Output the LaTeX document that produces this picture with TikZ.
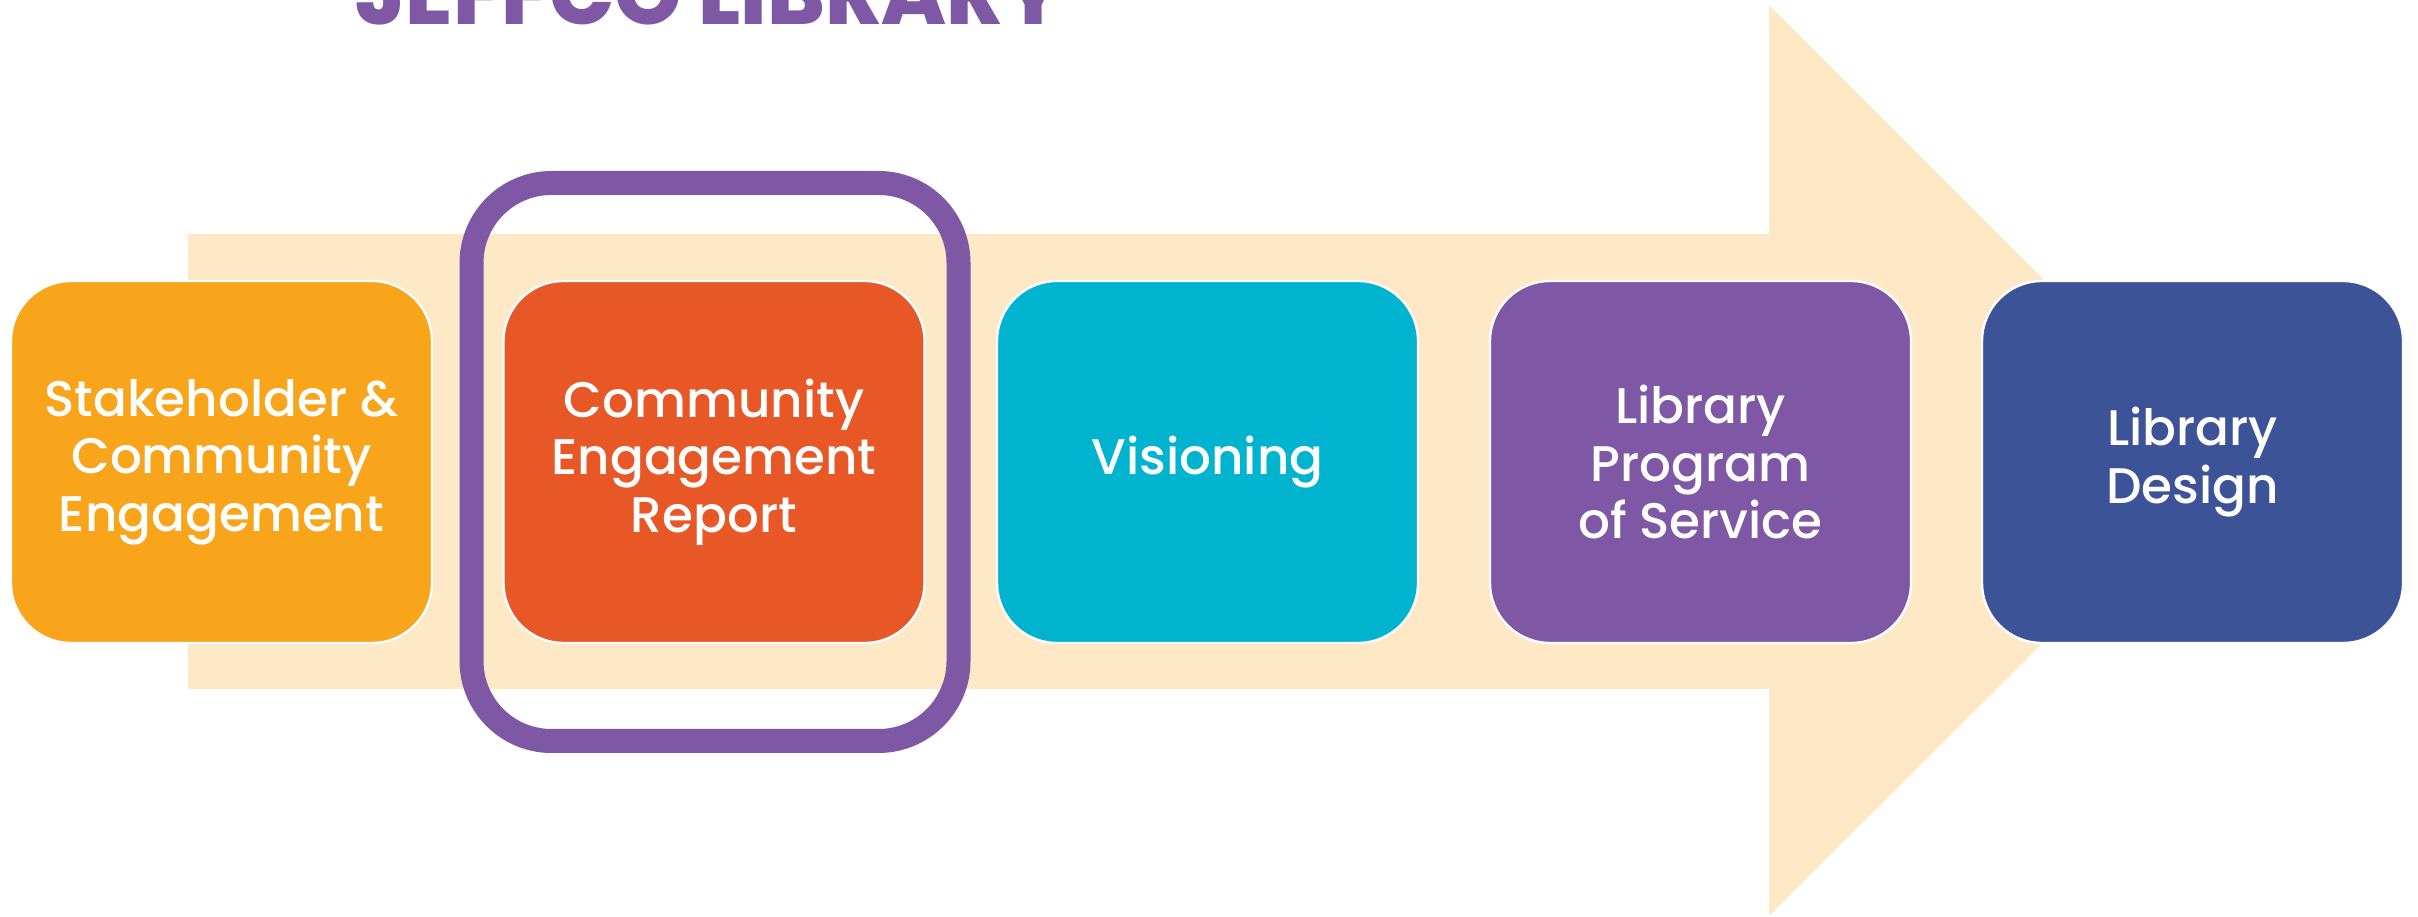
\documentclass[tikz,border=0pt]{standalone}
\usepackage{fontspec}
\setmainfont{Poppins}
\newfontfamily\boxfont{Poppins Medium}
\newfontfamily\titlefont{Poppins ExtraBold}
\usepackage{graphicx}

\definecolor{arrowpeach}{HTML}{FEE8C6}
\definecolor{steporange}{HTML}{F9A51C}
\definecolor{stepred}{HTML}{E85726}
\definecolor{stepcyan}{HTML}{00B4D0}
\definecolor{steppurple}{HTML}{7F58A5}
\definecolor{stepblue}{HTML}{3C5497}

\tikzset{
  stepbox/.style={draw=white, line width=0.6pt, rounded corners=15pt,
    minimum width=105.25pt, minimum height=90.5pt, align=center,
    text=white, font=\boxfont\fontsize{12.5pt}{14.4pt}\selectfont, inner sep=0pt},
  highlight/.style={draw=steppurple, line width=6pt, rounded corners=20pt,
    minimum width=121.75pt, minimum height=139.5pt, inner sep=0pt},
}

\begin{document}
\begin{tikzpicture}[x=0.25pt, y=-0.25pt]
  \useasboundingbox (0,0) rectangle (2418,917);
  \clip (0,0) rectangle (2418,917);

  % big background arrow
  \fill[arrowpeach] (188,234) -- (1769,234) -- (1769,5) -- (2225,461)
    -- (1769,916) -- (1769,689) -- (188,689) -- cycle;

  % heading, cut by the top edge
  \node[anchor=base west, inner sep=0pt, text=steppurple] (title) at (355,25)
    {\resizebox{177pt}{!}{\titlefont JEFFCO LIBRARY}};

  % frame around the current step
  \node[highlight] (frame) at (715,462) {};

  % process steps
  \node[stepbox, fill=steporange] (s1) at (221.5,462) {Stakeholder \&\\Community\\Engagement};
  \node[stepbox, fill=stepred]    (s2) at (714,462)   {Community\\Engagement\\Report};
  \node[stepbox, fill=stepcyan]   (s3) at (1207.5,462) {Visioning};
  \node[stepbox, fill=steppurple] (s4) at (1700.5,462) {Library\\Program\\of Service};
  \node[stepbox, fill=stepblue]   (s5) at (2192.5,462) {Library\\Design};
\end{tikzpicture}
\end{document}
